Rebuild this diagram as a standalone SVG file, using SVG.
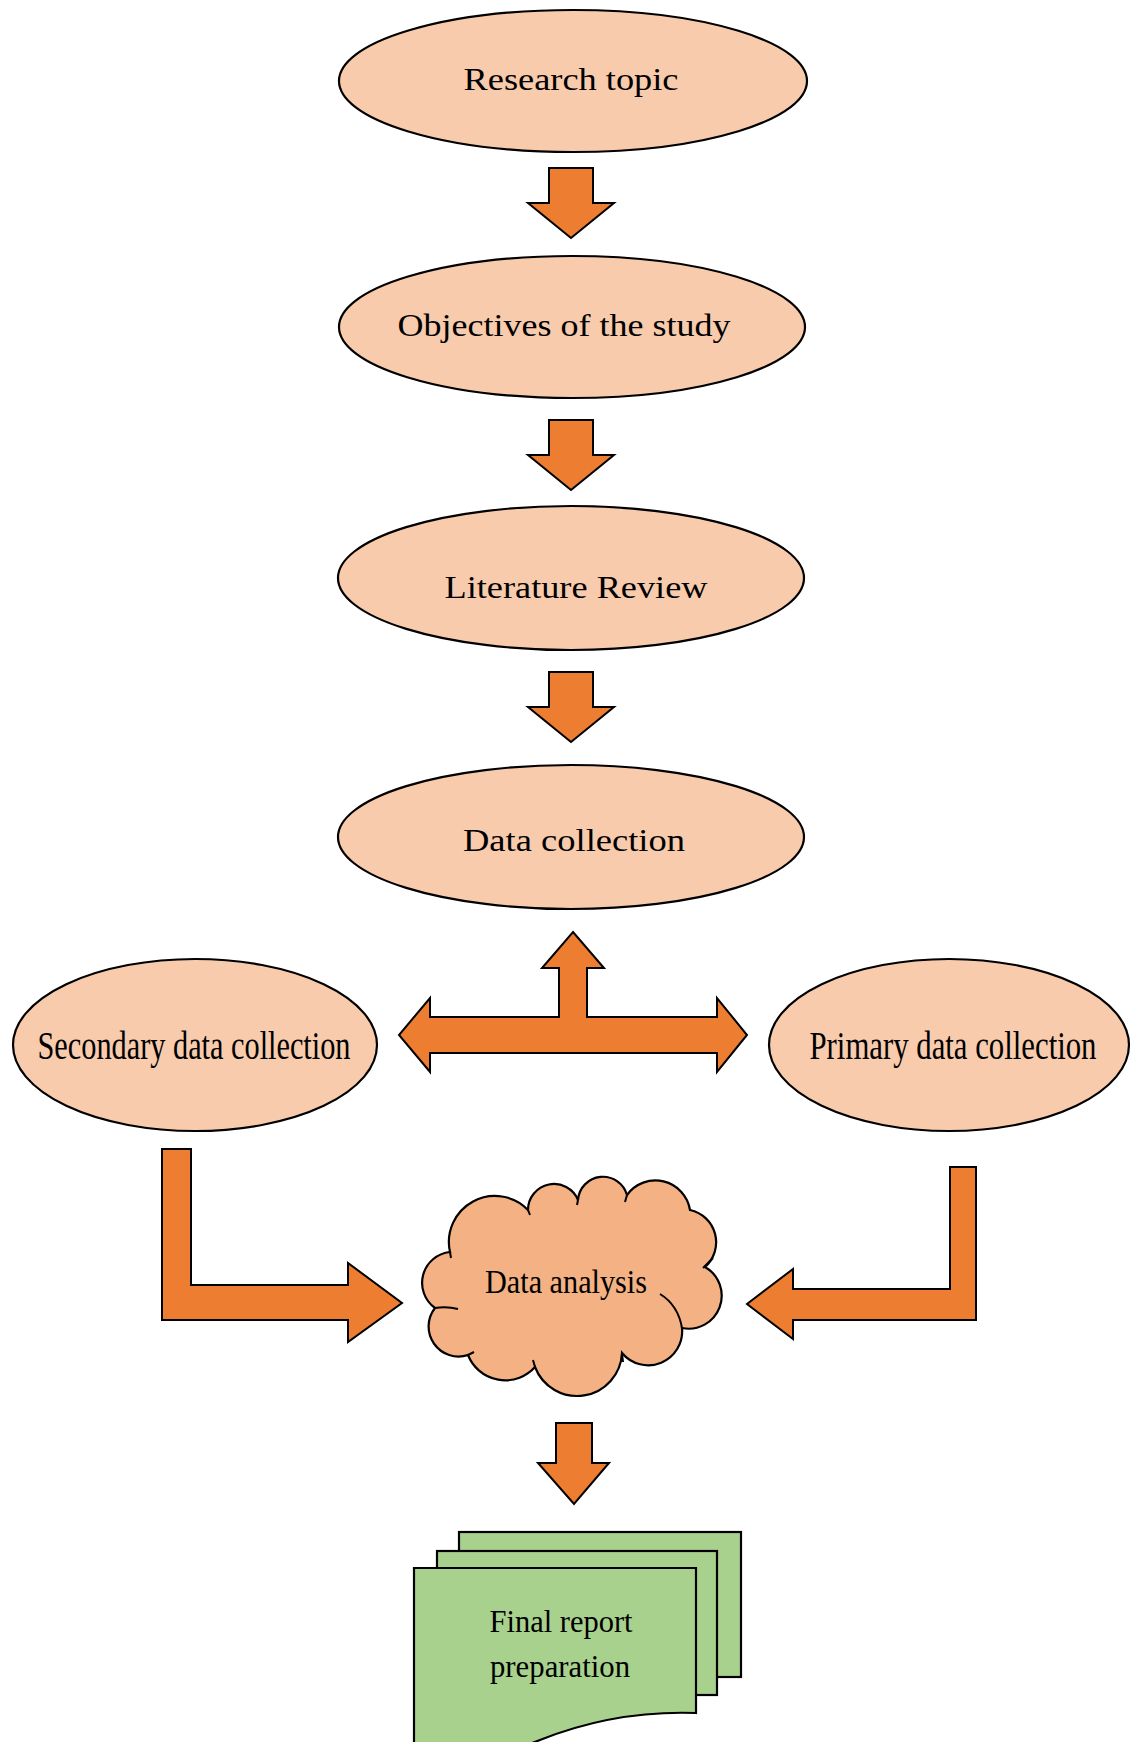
<svg xmlns="http://www.w3.org/2000/svg" width="1131" height="1742" viewBox="0 0 1131 1742">
<style>
.oval{fill:#F8CBAD;stroke:#000;stroke-width:2.2}
.arr{fill:#ED7D31;stroke:#000;stroke-width:2;stroke-linejoin:miter}
.cloud{fill:#F4B183;stroke:#000;stroke-width:2.2}
.doc{fill:#A9D18E;stroke:#000;stroke-width:2.2}
.t{font-family:"Liberation Serif","Times New Roman",serif;fill:#000;text-anchor:middle}
.top{font-size:31px}
.side{font-size:30.5px}
</style>
<rect width="1131" height="1742" fill="#fff"/>
<g id="connectors">
<polygon class="arr" points="549,168 593,168 593,203 614,203 571,238 528,203 549,203"/>
<polygon class="arr" points="549,420 593,420 593,455 614,455 571,490 528,455 549,455"/>
<polygon class="arr" points="549,672 593,672 593,707 614,707 571,742 528,707 549,707"/>
<polygon class="arr" points="573,932 604,968 587,968 587,1017 717,1017 717,998 747,1035 717,1072 717,1053 430,1053 430,1072 399,1035 430,998 430,1017 559,1017 559,968 542,968"/>
<polygon class="arr" points="162,1149 191,1149 191,1285 348,1285 348,1263 402,1303 348,1342 348,1320 162,1320"/>
<polygon class="arr" points="950,1167 976,1167 976,1320 793,1320 793,1339 747,1304 793,1269 793,1289 950,1289"/>
<polygon class="arr" points="556,1423 592,1423 592,1463 609,1463 574,1504 538,1463 556,1463"/>
</g>
<g id="research-topic">
<ellipse class="oval" cx="573" cy="81" rx="234" ry="71"/>
<text class="t top" x="571" y="90" textLength="215" lengthAdjust="spacingAndGlyphs">Research topic</text>
</g>
<g id="objectives">
<ellipse class="oval" cx="572" cy="327" rx="233" ry="71"/>
<text class="t top" x="564" y="336" textLength="333" lengthAdjust="spacingAndGlyphs">Objectives of the study</text>
</g>
<g id="literature-review">
<ellipse class="oval" cx="571" cy="578" rx="233" ry="72"/>
<text class="t top" x="576" y="598" textLength="263" lengthAdjust="spacingAndGlyphs">Literature Review</text>
</g>
<g id="data-collection">
<ellipse class="oval" cx="571" cy="837" rx="233" ry="72"/>
<text class="t top" x="574" y="851" textLength="222" lengthAdjust="spacingAndGlyphs">Data collection</text>
</g>
<g id="secondary-data-collection">
<ellipse class="oval" cx="195" cy="1045" rx="182" ry="86"/>
<text class="t side" transform="translate(194,1059) scale(1,1.3)" x="0" y="0" textLength="313" lengthAdjust="spacingAndGlyphs">Secondary data collection</text>
</g>
<g id="primary-data-collection">
<ellipse class="oval" cx="949" cy="1045" rx="180" ry="86"/>
<text class="t side" transform="translate(953,1059) scale(1,1.3)" x="0" y="0" textLength="287" lengthAdjust="spacingAndGlyphs">Primary data collection</text>
</g>
<g id="data-analysis">
<path class="cloud" d="M435,1308 A31,31 0 0 1 450,1252 A46,46 0 0 1 528,1210 A26,26 0 0 1 578,1200 A25,25 0 0 1 627,1195 A35,35 0 0 1 690,1210 A33,33 0 0 1 705,1267 A33,33 0 0 1 682,1328 A34,34 0 0 1 622,1353 A45,45 0 0 1 535,1367 A40,40 0 0 1 468,1355 A30,30 0 0 1 435,1308 Z"/>
<path fill="none" stroke="#000" stroke-width="2" d="M435,1308 Q447,1306 458,1309 M660,1294 Q678,1305 682,1328 M528,1210 L530,1215 M627,1195 L625,1202 M703,1268 L713,1258 M622,1353 L623,1362 M535,1367 L533,1360 M468,1355 L474,1352 M578,1200 L577,1205 M450,1252 L451,1258"/>
<text class="t" x="566" y="1293" font-size="33" textLength="162" lengthAdjust="spacingAndGlyphs">Data analysis</text>
</g>
<g id="final-report-preparation">
<rect class="doc" x="459" y="1532" width="282" height="145"/>
<rect class="doc" x="437" y="1551" width="280" height="144"/>
<path class="doc" d="M414,1568 L696,1568 L696,1713 C640,1711 590,1720 540,1740 C500,1756 450,1762 414,1760 Z"/>
<text class="t" x="561" y="1632" font-size="32" textLength="143" lengthAdjust="spacingAndGlyphs">Final report</text>
<text class="t" x="560" y="1677" font-size="32" textLength="140" lengthAdjust="spacingAndGlyphs">preparation</text>
</g>
</svg>
